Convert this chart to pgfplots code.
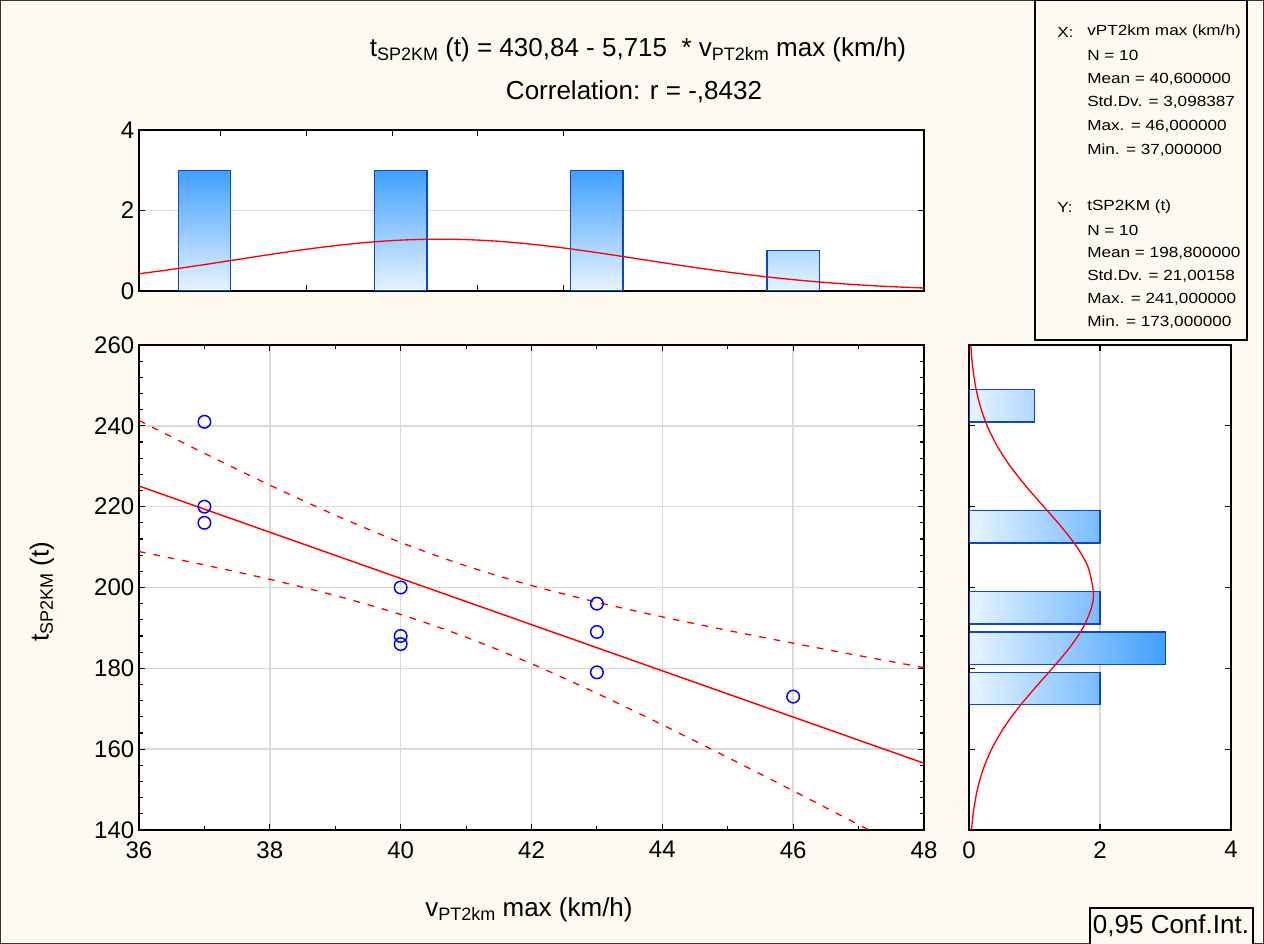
\documentclass[border=0pt]{standalone}
\usepackage{pgfplots}
\pgfplotsset{compat=1.18}
\usepackage{fontspec}
\setmainfont{Liberation Sans}
\newfontfamily\statfont[FakeStretch=1.17]{Liberation Sans}
\definecolor{bgc}{RGB}{255,250,240}
\definecolor{gridc}{RGB}{218,218,218}
\definecolor{barlo}{RGB}{232,244,255}
\definecolor{barthree}{RGB}{64,160,255}
\definecolor{bartwo}{RGB}{120,188,255}
\definecolor{barone}{RGB}{176,216,255}
\definecolor{barline}{RGB}{15,70,200}
\definecolor{myred}{RGB}{255,0,0}
\definecolor{myblue}{RGB}{0,0,255}
\newcommand{\sub}[1]{\raisebox{-0.3ex}{\fontsize{13.5}{13.5}\selectfont #1}}
\pgfplotsset{
  base/.style={
    scale only axis,
    axis background/.style={fill=white},
    axis line style={line width=1.1pt, black},
    tick style={black, line width=0.8pt},
    major tick length=4.5pt,
    minor tick length=3pt,
    tick align=inside,
    grid style={gridc, line width=1.1pt},
    tick label style={font=\fontsize{18}{18}\selectfont},
    /pgf/number format/assume math mode=true,
    xticklabel style={yshift=-5pt},
  }
}
\begin{document}
\begin{tikzpicture}
\useasboundingbox (0pt,0pt) rectangle (948pt,708pt);
\begin{scope}[x=0.75pt,y=0.75pt]
\fill[bgc] (0,0) rectangle (1264,944);
\draw[black!80, line width=1pt] (0.7,0.7) rectangle (1263.3,943.3);
\end{scope}

% ---------- scatter ----------
\begin{axis}[base, at={(104.25pt,85.5pt)}, anchor=south west,
  width=588.75pt, height=363.75pt,
  xmin=36, xmax=48, ymin=140, ymax=260,
  xtick={36,38,...,48}, ytick={140,160,...,260},
  minor x tick num=1, minor y tick num=4,
  xmajorgrids, ymajorgrids]
\addplot[myred, line width=1.1pt] coordinates {(36,225.10) (48,156.52)};
\addplot[myred, line width=1pt, dash pattern=on 5pt off 6pt, smooth] coordinates {
(36,241.32) (37,233.19) (38,225.33) (39,217.90) (40,211.15) (41,205.34) (42,200.48) (43,196.37) (44,192.73) (45,189.38) (46,186.21) (47,183.16) (48,180.17)};
\addplot[myred, line width=1pt, dash pattern=on 5pt off 6pt, smooth] coordinates {
(36,208.89) (37,205.58) (38,202.01) (39,198.01) (40,193.33) (41,187.71) (42,181.14) (43,173.82) (44,166.03) (45,157.95) (46,149.69) (47,141.32) (48,132.87)};
\addplot[only marks, mark=o, mark size=4.7pt, myblue, line width=1.1pt] coordinates {
(37,241) (37,220) (37,216) (40,200) (40,188) (40,186) (43,196) (43,189) (43,179) (46,173)};
\end{axis}

% ---------- top histogram ----------
\begin{axis}[base, at={(104.25pt,489.75pt)}, anchor=south west,
  width=588.75pt, height=120.75pt,
  xmin=36, xmax=48, ymin=0, ymax=4,
  ytick={0,2,4}, xtick={37.25,38.56,39.87,41.18,42.49}, xticklabels={},
  ymajorgrids]
\addplot[ybar, bar width=0.8, bar shift=0pt, draw=barline, line width=1.1pt, bottom color=barlo, top color=barthree] coordinates {(37,3) (40,3) (43,3)};
\addplot[ybar, bar width=0.8, bar shift=0pt, draw=barline, line width=1.1pt, bottom color=barlo, top color=barone] coordinates {(46,1)};
\addplot[myred, smooth, line width=1pt] coordinates {
(36,.4277) (36.5,.5365) (37,.6556) (37.5,.7806) (38,.9055) (38.5,1.0234) (39,1.1269) (39.5,1.2090) (40,1.2637) (40.5,1.2869) (41,1.2769) (41.5,1.2344) (42,1.1626) (42.5,1.0669) (43,.9539) (43.5,.8309) (44,.7052) (44.5,.5831) (45,.4698) (45.5,.3687) (46,.2819) (46.5,.2101) (47,.1525) (47.5,.1078) (48,.0743)};
\end{axis}

% ---------- right histogram ----------
\begin{axis}[base, at={(726.75pt,85.5pt)}, anchor=south west,
  width=196.5pt, height=363.75pt,
  xmin=0, xmax=4, ymin=140, ymax=260,
  xtick={0,2,4}, ytick={160,180,...,240}, yticklabels={},
  xmajorgrids]
\addplot[xbar, bar width=8, bar shift=0pt, draw=barline, line width=1.1pt, left color=barlo, right color=barthree] coordinates {(3,185)};
\addplot[xbar, bar width=8, bar shift=0pt, draw=barline, line width=1.1pt, left color=barlo, right color=bartwo] coordinates {(2,175) (2,195) (2,215)};
\addplot[xbar, bar width=8, bar shift=0pt, draw=barline, line width=1.1pt, left color=barlo, right color=barone] coordinates {(1,245)};
\addplot[myred, smooth, line width=1pt] coordinates {
(.0377,140) (.0714,145) (.1277,150) (.2158,155) (.3448,160) (.5202,165) (.7418,170) (.9996,175) (1.2725,180) (1.5307,185) (1.7399,190) (1.8687,195) (1.8996,198.8) (1.8186,205) (1.6478,210) (1.4108,215) (1.1413,220) (.8724,225) (.6301,230) (.4300,235) (.2773,240) (.1690,245) (.0973,250) (.0529,255) (.0272,260)};
\end{axis}

\begin{scope}[x=0.75pt,y=0.75pt]
% ---------- texts ----------
\node[font=\fontsize{19.5}{20}\selectfont] at (638,894) {t\sub{SP2KM} (t) = 430,84 - 5,715\ \ * v\sub{PT2km} max (km/h)};
\node[font=\fontsize{19.5}{20}\selectfont] at (634,852) {Correlation: r = -,8432};
\node[font=\fontsize{19.5}{20}\selectfont, rotate=90] at (42,352) {t\sub{SP2KM} (t)};
\node[font=\fontsize{19.5}{20}\selectfont] at (529,34) {v\sub{PT2km} max (km/h)};

% conf box
\draw[black, line width=1.2pt, fill=bgc] (1090,-2) rectangle (1253,36);
\node[font=\fontsize{19.5}{20}\selectfont] at (1171,18) {0,95 Conf.Int.};

% stats box
\draw[black, line width=1.2pt, fill=bgc] (1035,604) rectangle (1247,943.3);
\begin{scope}
\clip (1036,605) rectangle (1245,942);
\begin{scope}[every node/.style={font=\statfont\fontsize{11}{12}\selectfont, anchor=west, inner sep=0pt}]
\node at (1057,912) {X:};
\node at (1087,912) {vPT2km max (km/h)};
\node at (1087,889) {N = 10};
\node at (1087,865) {Mean = 40,600000};
\node at (1087,842) {Std.Dv. = 3,098387};
\node at (1087,818) {Max. = 46,000000};
\node at (1087,794) {Min. = 37,000000};
\node at (1057,737) {Y:};
\node at (1087,737) {tSP2KM (t)};
\node at (1087,714) {N = 10};
\node at (1087,691) {Mean = 198,800000};
\node at (1087,668) {Std.Dv. = 21,00158};
\node at (1087,645) {Max. = 241,000000};
\node at (1087,622) {Min. = 173,000000};
\end{scope}
\end{scope}
\end{scope}
\end{tikzpicture}
\end{document}
